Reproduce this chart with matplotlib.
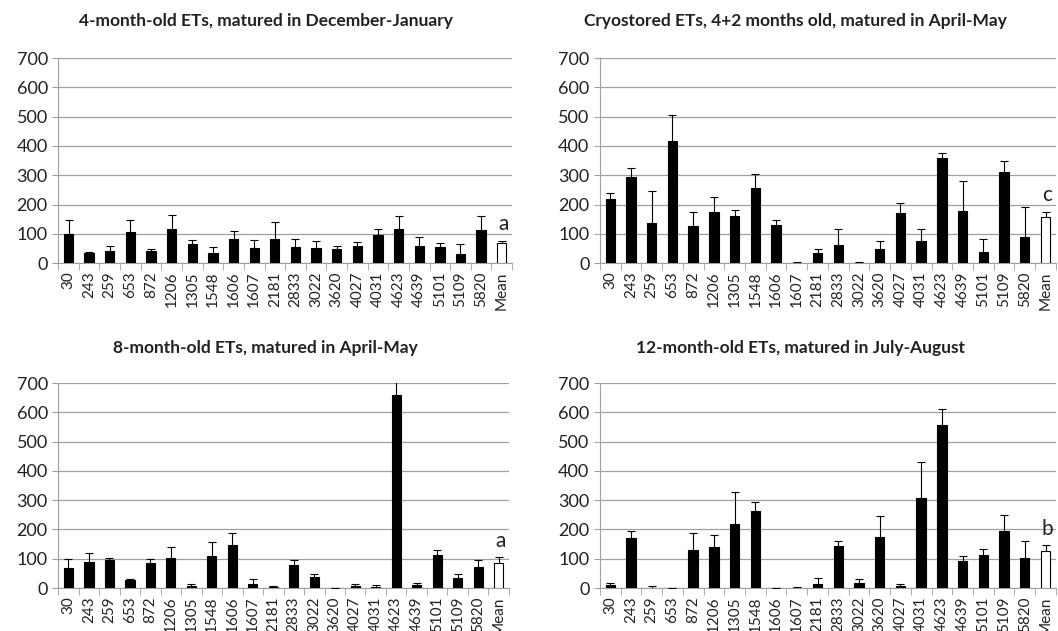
import numpy as np
import matplotlib
matplotlib.use("Agg")
import matplotlib.pyplot as plt

plt.rcParams['font.family'] = ['Lato', 'DejaVu Sans']

# categorías (clones) comunes a los cuatro paneles
categories = ["30", "243", "259", "653", "872", "1206", "1305", "1548", "1606", "1607",
              "2181", "2833", "3022", "3620", "4027", "4031", "4623", "4639", "5101",
              "5109", "5820", "Mean"]

titles = ["4-month-old ETs, matured in December-January",
          "Cryostored ETs, 4+2 months old, matured in April-May",
          "8-month-old ETs, matured in April-May",
          "12-month-old ETs, matured in July-August"]

# valores y error superior
dec_jan_vals = [100, 36, 43, 106, 42, 116, 65, 33, 81, 52, 84, 56, 52, 49, 58, 97, 117, 58, 56, 31, 112, 70]
dec_jan_err = [48, 2, 17, 40, 7, 48, 15, 22, 27, 28, 56, 28, 22, 11, 13, 20, 44, 30, 11, 33, 48, 6]

cryo_vals = [220, 294, 136, 416, 127, 176, 160, 257, 129, 2, 36, 63, 2, 49, 170, 76, 360, 179, 38, 310, 88, 157]
cryo_err = [21, 29, 109, 89, 49, 51, 21, 48, 19, 1, 12, 54, 1, 25, 34, 40, 16, 103, 44, 38, 103, 19]

apr_may_vals = [68, 89, 95, 26, 86, 102, 8, 111, 146, 14, 5, 79, 39, 0, 8, 4, 658, 11, 114, 34, 71, 85]
apr_may_err = [33, 32, 8, 5, 14, 39, 5, 48, 41, 17, 1, 18, 8, 0, 5, 5, 100, 7, 16, 15, 24, 20]

jul_aug_vals = [10, 171, 2, 0, 130, 140, 218, 263, 0, 2, 14, 142, 18, 176, 8, 308, 557, 92, 113, 195, 104, 127]
jul_aug_err = [7, 23, 5, 0, 58, 41, 110, 31, 0, 1, 19, 18, 12, 69, 7, 124, 56, 18, 19, 53, 56, 20]

letters = ["a", "c", "a", "b"]

panels = [(dec_jan_vals, dec_jan_err), (cryo_vals, cryo_err),
          (apr_may_vals, apr_may_err), (jul_aug_vals, jul_aug_err)]

# posiciones [left, bottom, width, height] de cada panel y x del título
rects = [[0.055, 0.583, 0.429, 0.325],
         [0.567, 0.583, 0.431, 0.325],
         [0.055, 0.068, 0.426, 0.325],
         [0.567, 0.068, 0.431, 0.325]]
title_pos = [(0.251, 0.967), (0.752, 0.967), (0.251, 0.449), (0.757, 0.449)]

fig = plt.figure(figsize=(10.58, 6.31), dpi=100)
grid_col = "#a0a0a0"

for i, (vals, errs) in enumerate(panels):
    ax = fig.add_axes(rects[i])
    x = np.arange(len(categories))
    vals = np.array(vals, dtype=float)
    errs = np.array(errs, dtype=float)
    colors = ["black"] * (len(categories) - 1) + ["white"]
    ax.bar(x, vals, width=0.45, color=colors, edgecolor="black", linewidth=0.8, zorder=3)
    eb = ax.errorbar(x, vals, yerr=[np.zeros_like(errs), errs], fmt="none",
                     ecolor="black", elinewidth=0.8, capsize=3, capthick=0.8, zorder=4)
    eb[1][0].set_visible(False)  # sin tapa inferior

    ax.text(x[-1] + 0.1, vals[-1] + errs[-1] + 22, letters[i], ha="center", va="bottom",
            fontsize=15, color="#222222")

    ax.set_xlim(-0.5, len(categories) - 0.5)
    ax.set_ylim(0, 700)
    ax.set_yticks(range(0, 701, 100))
    ax.yaxis.grid(True, color=grid_col, linewidth=0.9, zorder=0)
    ax.set_axisbelow(True)
    for s in ["top", "right"]:
        ax.spines[s].set_visible(False)
    ax.spines["left"].set_color(grid_col)
    ax.spines["bottom"].set_color(grid_col)

    ax.set_xticks(x)
    ax.set_xticklabels(categories, rotation=90, fontsize=11, color="#222222")
    ax.set_xticks(np.arange(-0.5, len(categories), 1), minor=True)
    ax.tick_params(axis="x", which="major", length=0, pad=6)
    ax.tick_params(axis="x", which="minor", length=5, color=grid_col)
    ax.tick_params(axis="y", length=4, color=grid_col, labelsize=13, labelcolor="#222222")

    fig.text(title_pos[i][0], title_pos[i][1], titles[i], ha="center", va="center",
             fontsize=12.5, fontweight="bold", color="#222222")

fig.savefig("out.png", dpi=100)
